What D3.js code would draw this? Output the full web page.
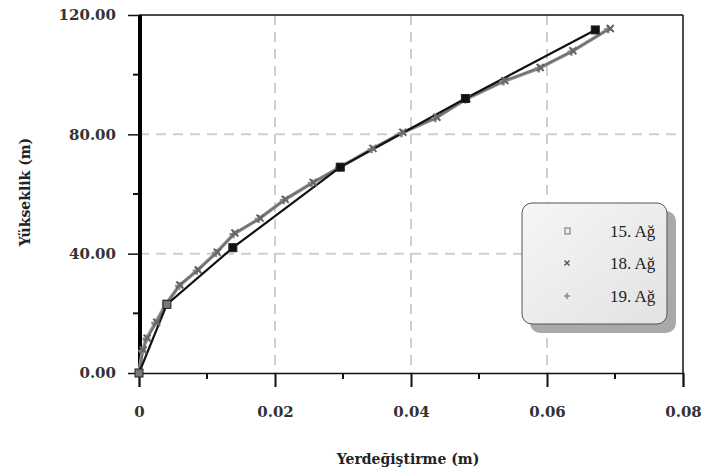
<!DOCTYPE html>
<html>
<head>
<meta charset="utf-8">
<script src="https://cdn.jsdelivr.net/npm/d3@7"></script>
<style>
body { margin: 0; background: #fff; }
text { font-family: "Liberation Serif", "DejaVu Serif", serif; }
</style>
</head>
<body>
<div id="chart"></div>
<script>
var WIDTH = 702
var HEIGHT = 473

// series values
var x15 = [0, 0.0041, 0.0138, 0.0296, 0.048, 0.0671]
var y15 = [0, 23, 42, 69, 92, 115]

var x18 = [0, 0.0006, 0.0012, 0.0026, 0.0041, 0.006, 0.0087, 0.0115, 0.0141, 0.0178, 0.0215, 0.0256, 0.0296, 0.0344, 0.0388, 0.0438, 0.0482, 0.0538, 0.059, 0.0638, 0.0693]
var y18 = [0, 7.7, 11.7, 17, 23.4, 29.5, 34.5, 40.5, 46.9, 51.9, 58.2, 63.9, 69, 75.3, 80.7, 85.7, 92, 98, 102.4, 108, 115.5]

var x19 = [0, 0.0005, 0.0011, 0.0024, 0.004, 0.0059, 0.0085, 0.0113, 0.0139, 0.0176, 0.0213, 0.0254, 0.0294, 0.0342, 0.0386, 0.0436, 0.048, 0.0536, 0.0588, 0.0636, 0.069]
var y19 = [0, 7.5, 11.5, 16.8, 23.2, 29.2, 34.3, 40.2, 46.5, 51.6, 57.9, 63.6, 68.8, 75, 80.4, 85.4, 91.7, 97.7, 102.1, 107.7, 115.2]

var xTicks = [0, 0.02, 0.04, 0.06, 0.08]
var xTickLabels = ["0", "0.02", "0.04", "0.06", "0.08"]
var yTicks = [0, 40, 80, 120]
var yTickLabels = ["0.00", "40.00", "80.00", "120.00"]
var xMinor = [0.01, 0.03, 0.05, 0.07]
var yMinor = [20, 60, 100]
var legendNames = ["15. Ağ", "18. Ağ", "19. Ağ"]

var boldFont = "'DejaVu Serif', serif"

var svg = d3.select("#chart").append("svg")
	.attr("width", WIDTH)
	.attr("height", HEIGHT)

var x = d3.scaleLinear().domain([0, 0.08]).range([139, 683])
var y = d3.scaleLinear().domain([0, 120]).range([373, 15])

// grid
svg.selectAll(".gx").data([0.02, 0.04, 0.06]).enter().append("line")
	.attr("x1", d => x(d)).attr("x2", d => x(d))
	.attr("y1", y(120)).attr("y2", y(0))
	.attr("stroke", "#cfcfcf").attr("stroke-width", 2).attr("stroke-dasharray", "10,7")
svg.selectAll(".gy").data([40, 80]).enter().append("line")
	.attr("x1", x(0)).attr("x2", x(0.08))
	.attr("y1", d => y(d)).attr("y2", d => y(d))
	.attr("stroke", "#cfcfcf").attr("stroke-width", 2).attr("stroke-dasharray", "10,7")

// frame: top and right thin
svg.append("line").attr("x1", x(0)).attr("x2", x(0.08)).attr("y1", y(120)).attr("y2", y(120))
	.attr("stroke", "#111").attr("stroke-width", 1.5)
svg.append("line").attr("x1", x(0.08)).attr("x2", x(0.08)).attr("y1", y(120)).attr("y2", y(0))
	.attr("stroke", "#111").attr("stroke-width", 1.5)

// axes
var xAxis = d3.axisBottom(x).tickValues(xTicks).tickFormat((d, i) => xTickLabels[i]).tickSize(14).tickPadding(19)
var gx = svg.append("g").attr("transform", "translate(0," + y(0) + ")").call(xAxis)
gx.select(".domain").attr("stroke", "#111").attr("stroke-width", 1.5)
gx.selectAll(".tick line").attr("stroke", "#111").attr("stroke-width", 2)
gx.selectAll(".tick text").attr("font-size", 15).attr("font-weight", "bold").attr("fill", "#333")
	.style("font-family", boldFont)
gx.selectAll(".minor").data(xMinor).enter().append("line")
	.attr("x1", d => x(d)).attr("x2", d => x(d)).attr("y1", 0).attr("y2", 6)
	.attr("stroke", "#111").attr("stroke-width", 2)

var yAxis = d3.axisLeft(y).tickValues(yTicks).tickFormat((d, i) => yTickLabels[i]).tickSize(11).tickPadding(12)
var gy = svg.append("g").attr("transform", "translate(" + x(0) + ",0)").call(yAxis)
gy.select(".domain").remove()
gy.selectAll(".tick line").attr("stroke", "#111").attr("stroke-width", 1.5)
gy.selectAll(".tick text").attr("font-size", 15).attr("font-weight", "bold").attr("fill", "#333")
	.style("font-family", boldFont)
gy.selectAll(".minor").data(yMinor).enter().append("line")
	.attr("x1", -6).attr("x2", 0).attr("y1", d => y(d)).attr("y2", d => y(d))
	.attr("stroke", "#111").attr("stroke-width", 2)
// thick left axis
svg.append("line").attr("x1", x(0) + 1).attr("x2", x(0) + 1).attr("y1", y(120)).attr("y2", y(0) + 2)
	.attr("stroke", "#000").attr("stroke-width", 4)

// axis titles
svg.append("text").attr("x", 408).attr("y", 464).attr("text-anchor", "middle")
	.style("font-family", boldFont)
	.attr("font-size", 14).attr("font-weight", "bold").attr("fill", "#222").text("Yerdeğiştirme (m)")
svg.append("text").attr("transform", "translate(30,192) rotate(-90)").attr("text-anchor", "middle")
	.style("font-family", boldFont)
	.attr("font-size", 14).attr("font-weight", "bold").attr("fill", "#222").text("Yükseklik (m)")

// lines
var line = d3.line().x(d => x(d[0])).y(d => y(d[1]))
var s19 = x19.map((v, i) => [v, y19[i]])
var s18 = x18.map((v, i) => [v, y18[i]])
var s15 = x15.map((v, i) => [v, y15[i]])

svg.append("path").datum(s19).attr("d", line).attr("fill", "none").attr("stroke", "#9a9a9a").attr("stroke-width", 3.5)
svg.append("path").datum(s18).attr("d", line).attr("fill", "none").attr("stroke", "#707070").attr("stroke-width", 2)
svg.append("path").datum(s15).attr("d", line).attr("fill", "none").attr("stroke", "#111").attr("stroke-width", 2.2)

// markers 19: plus
svg.selectAll(".m19").data(s19).enter().append("path")
	.attr("transform", d => "translate(" + x(d[0]) + "," + y(d[1]) + ")")
	.attr("d", "M-4,0H4M0,-4V4").attr("stroke", "#8a8a8a").attr("stroke-width", 2.5)
// markers 18: cross
svg.selectAll(".m18").data(s18).enter().append("path")
	.attr("transform", d => "translate(" + x(d[0]) + "," + y(d[1]) + ")")
	.attr("d", "M-3.5,-3.5L3.5,3.5M-3.5,3.5L3.5,-3.5").attr("stroke", "#666").attr("stroke-width", 2)
// markers 15: squares
svg.selectAll(".m15").data(s15).enter().append("rect")
	.attr("x", d => x(d[0]) - 4).attr("y", d => y(d[1]) - 4)
	.attr("width", 8).attr("height", 8)
	.attr("fill", (d, i) => i == 0 || i == 1 ? "#777" : "#111")
	.attr("stroke", "#222").attr("stroke-width", 1)

// legend
var lg = svg.append("g")
lg.append("rect").attr("x", 530).attr("y", 211).attr("width", 146).attr("height", 122).attr("rx", 10)
	.attr("fill", "#a9a9a9")
var grad = svg.append("defs").append("linearGradient").attr("id", "lgfill")
	.attr("x1", 0).attr("y1", 0).attr("x2", 1).attr("y2", 1)
grad.append("stop").attr("offset", 0).attr("stop-color", "#f6f6f6")
grad.append("stop").attr("offset", 1).attr("stop-color", "#e2e2e2")
lg.append("rect").attr("x", 522).attr("y", 203).attr("width", 145).attr("height", 121).attr("rx", 10)
	.attr("fill", "url(#lgfill)").attr("stroke", "#555").attr("stroke-width", 1)

var ly = [231, 263, 296]
lg.append("rect").attr("x", 565).attr("y", ly[0] - 3).attr("width", 5).attr("height", 6)
	.attr("fill", "none").attr("stroke", "#999").attr("stroke-width", 1.5)
lg.append("path").attr("transform", "translate(567," + ly[1] + ")")
	.attr("d", "M-2.5,-2.5L2.5,2.5M-2.5,2.5L2.5,-2.5").attr("stroke", "#555").attr("stroke-width", 1.5)
lg.append("path").attr("transform", "translate(567," + ly[2] + ")")
	.attr("d", "M-3,0H3M0,-3V3").attr("stroke", "#888").attr("stroke-width", 1.5)
lg.selectAll(".lt").data(legendNames).enter().append("text")
	.attr("x", 610).attr("y", (d, i) => ly[i] + 6)
	.attr("font-size", 17).attr("fill", "#222").text(d => d)
</script>
</body>
</html>
